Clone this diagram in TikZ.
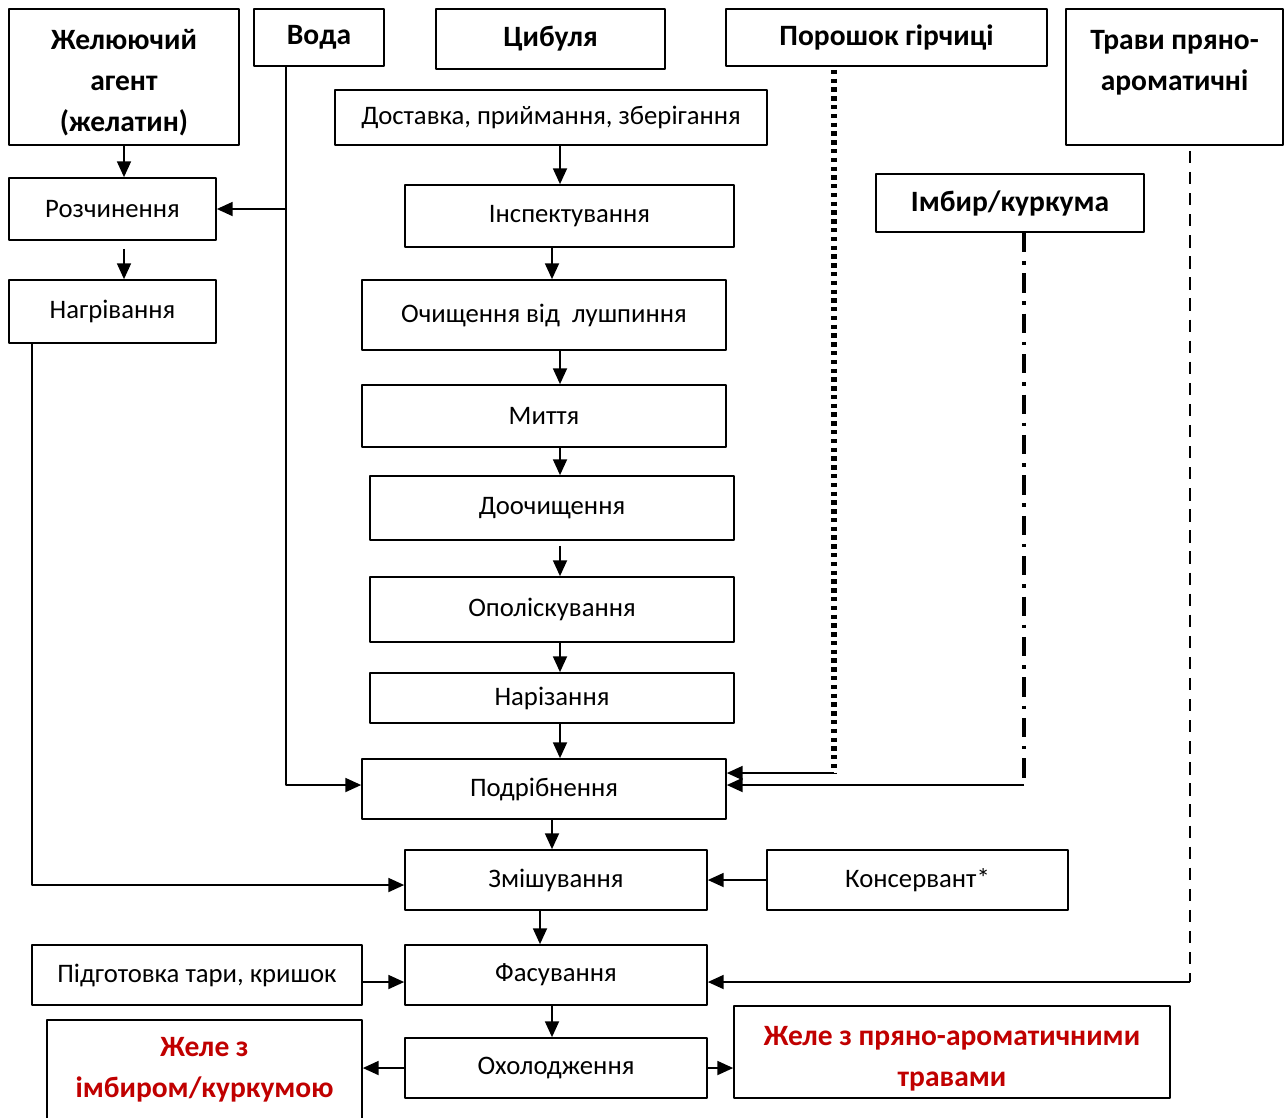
\documentclass[tikz,border=0pt]{standalone}
\usepackage{fontspec}
\setmainfont{Carlito}
\usetikzlibrary{arrows.meta}
\definecolor{jellyred}{RGB}{192,0,0}
\tikzset{
  box/.style={draw,line width=1pt,inner sep=0pt,align=center,font=\fontsize{15.2}{20}\selectfont},
  bbox/.style={box,font=\bfseries\fontsize{16.8}{23.2}\selectfont},
  rbox/.style={bbox,text=jellyred},
  mustline/.style={line width=3pt,dash pattern=on 2.5pt off 2.5pt},
  gingline/.style={line width=2pt,dash pattern=on 11pt off 5pt on 2pt off 5pt},
  herbline/.style={line width=0.9pt,dash pattern=on 7pt off 5pt},
}
\begin{document}
\begin{tikzpicture}[x=0.02cm,y=-0.02cm,line join=round,line width=0.9pt,>={Triangle[length=9pt,width=8pt]}]
\useasboundingbox (0,0) rectangle (1287,1117);

% raw materials
\node[bbox,minimum width=4.6cm,minimum height=2.72cm] (gel) at (124,77) {\rule{0pt}{18pt}Желюючий\\агент\\(желатин)};
\node[bbox,minimum width=2.6cm,minimum height=1.14cm] (voda) at (319,37.5) {Вода};
\node[bbox,minimum width=4.58cm,minimum height=1.2cm] (onion) at (550.5,39) {Цибуля};
\node[bbox,minimum width=6.42cm,minimum height=1.14cm] (mustard) at (886.5,37.5) {Порошок гірчиці};
\node[bbox,minimum width=4.34cm,minimum height=2.72cm] (herbs) at (1174.5,77) {\rule{0pt}{15.2pt}Трави пряно-\\ароматичні\\\mbox{}};
\node[bbox,minimum width=5.36cm,minimum height=1.16cm] (ginger) at (1010,203) {Імбир/куркума};

% gelling agent line
\node[box,minimum width=4.14cm,minimum height=1.24cm] (dissolve) at (112.5,209) {Розчинення};
\node[box,minimum width=4.14cm,minimum height=1.26cm] (heat) at (112.5,311.5) {Нагрівання};

% onion line
\node[box,minimum width=8.64cm,minimum height=1.1cm] (deliv) at (551,117.5) {Доставка, приймання, зберігання};
\node[box,minimum width=6.58cm,minimum height=1.24cm] (insp) at (569.5,216) {Інспектування};
\node[box,minimum width=7.28cm,minimum height=1.4cm] (peel) at (544,315) {Очищення від\ \ лушпиння};
\node[box,minimum width=7.28cm,minimum height=1.24cm] (wash) at (544,416) {Миття};
\node[box,minimum width=7.28cm,minimum height=1.28cm] (repeel) at (552,508) {Доочищення};
\node[box,minimum width=7.28cm,minimum height=1.3cm] (rinse) at (552,609.5) {Ополіскування};
\node[box,minimum width=7.28cm,minimum height=1cm] (cut) at (552,698) {Нарізання};
\node[box,minimum width=7.28cm,minimum height=1.2cm] (grind) at (544,789) {Подрібнення};
\node[box,minimum width=6.04cm,minimum height=1.2cm] (mix) at (556,880) {Змішування};
\node[box,minimum width=6.02cm,minimum height=1.2cm] (pres) at (917.5,880) {Консервант*};
\node[box,minimum width=6.6cm,minimum height=1.2cm] (jars) at (197,975) {Підготовка тари, кришок};
\node[box,minimum width=6.04cm,minimum height=1.2cm] (pack) at (556,975) {Фасування};
\node[box,minimum width=6.04cm,minimum height=1.2cm] (cool) at (556,1068) {Охолодження};

% products
\node[rbox,minimum width=6.3cm,minimum height=2cm] (outg) at (204.5,1070) {Желе з\\імбиром/куркумою};
\node[rbox,minimum width=8.72cm,minimum height=1.84cm] (outh) at (952,1052) {\rule{0pt}{18.6pt}Желе з пряно-ароматичними\\травами};

% corners
\coordinate (wcorner) at (286,785);
\coordinate (hcorner) at (32,885);
\coordinate (mcorner) at (834,773);
\coordinate (gcorner) at (1024,785);
\coordinate (tcorner) at (1190,982);

\draw[->] (124,0 |- gel.south) -- (124,0 |- dissolve.north);
\draw[->] (124,0 |- dissolve.south) ++(0,8) -- (124,0 |- heat.north);
\draw[->] (wcorner |- voda.south) -- (wcorner) -- (wcorner -| grind.west);
\draw[->] (wcorner |- dissolve.east) -- (dissolve.east);
\draw[->] (hcorner |- heat.south) -- (hcorner) -- (hcorner -| mix.west);

\draw[->] (560,0 |- deliv.south) -- (560,0 |- insp.north);
\draw[->] (552,0 |- insp.south) -- (552,0 |- peel.north);
\draw[->] (560,0 |- peel.south) -- (560,0 |- wash.north);
\draw[->] (560,0 |- wash.south) -- (560,0 |- repeel.north);
\draw[->] (560,0 |- repeel.south) ++(0,5) -- (560,0 |- rinse.north);
\draw[->] (560,0 |- rinse.south) -- (560,0 |- cut.north);
\draw[->] (560,0 |- cut.south) -- (560,0 |- grind.north);
\draw[->] (552,0 |- grind.south) -- (552,0 |- mix.north);
\draw[->] (540,0 |- mix.south) -- (540,0 |- pack.north);
\draw[->] (552,0 |- pack.south) -- (552,0 |- cool.north);

\draw[mustline] (mcorner |- mustard.south) ++(0,3) -- (mcorner);
\draw[->] (mcorner) -- (mcorner -| grind.east);
\draw[gingline] (gcorner |- ginger.south) -- (gcorner);
\draw[->] (gcorner) -- (gcorner -| grind.east);
\draw[herbline] (tcorner |- herbs.south) ++(0,5) -- (tcorner);
\draw[->] (tcorner) -- (tcorner -| pack.east);

\draw[->] (pres) -- (mix);
\draw[->] (jars.east |- tcorner) -- (pack.west |- tcorner);
\draw[->] (cool.west) -- (cool.west -| outg.east);
\draw[->] (cool.east) -- (cool.east -| outh.west);
\end{tikzpicture}
\end{document}
